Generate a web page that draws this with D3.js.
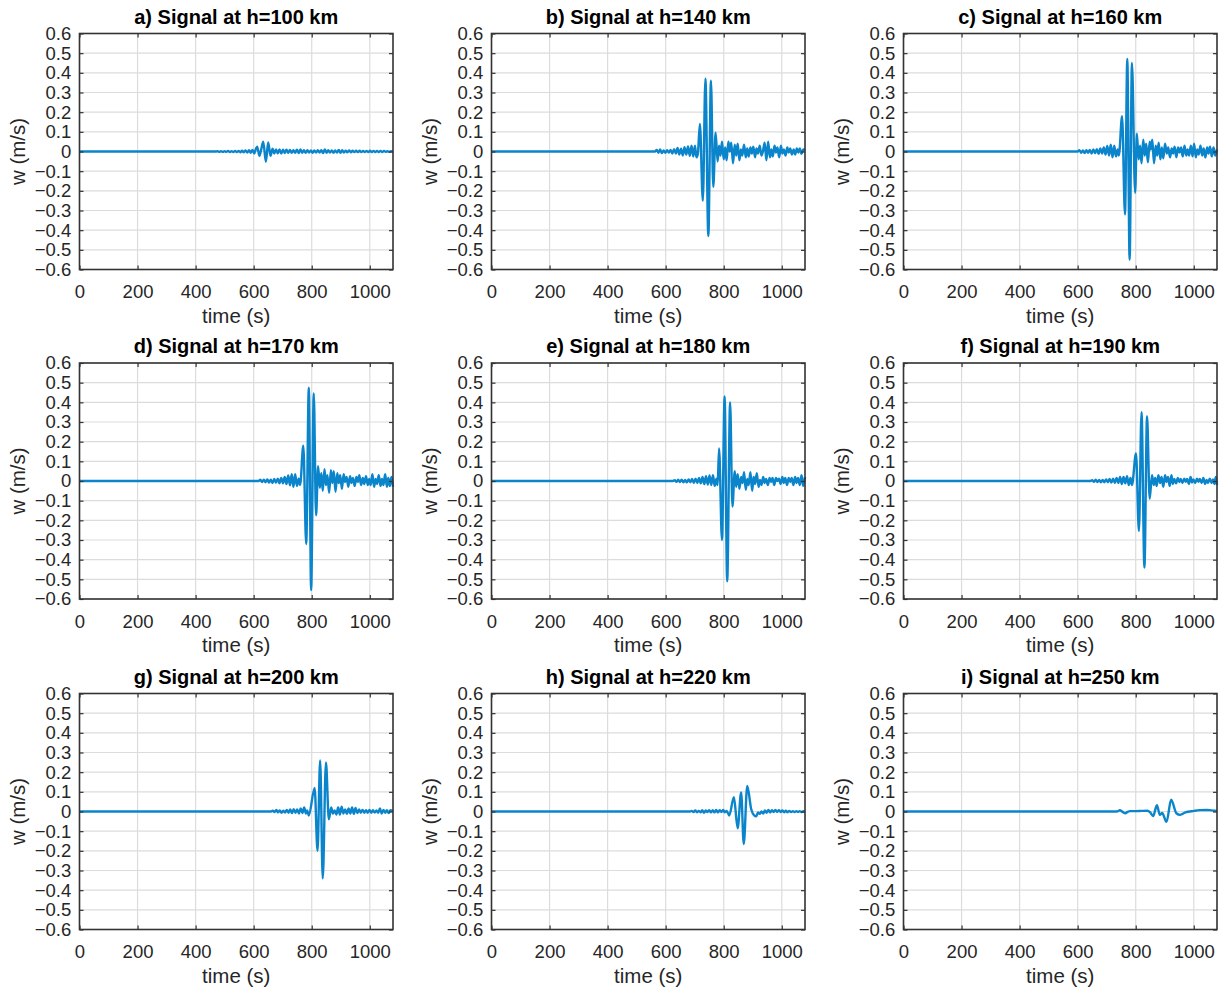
<!DOCTYPE html>
<html><head><meta charset="utf-8">
<script src="https://cdn.jsdelivr.net/npm/d3@7"></script>
<style>body{margin:0;background:#fff} svg{display:block}</style>
</head><body><svg id="c" width="1220" height="991"></svg>
<script>
// ---------- DATA ----------
const titles = ["a) Signal at h=100 km","b) Signal at h=140 km","c) Signal at h=160 km",
  "d) Signal at h=170 km","e) Signal at h=180 km","f) Signal at h=190 km",
  "g) Signal at h=200 km","h) Signal at h=220 km","i) Signal at h=250 km"];
const xTicks = [0,200,400,600,800,1000];
const yTicks = [-0.6,-0.5,-0.4,-0.3,-0.2,-0.1,0,0.1,0.2,0.3,0.4,0.5,0.6];
const xLabel = "time (s)";
const yLabel = "w (m/s)";

const sigA = [[0,0],[470,0],[476,0.002],[482,-0.002],[488,0.002],[494,-0.002],[500,0.002],[506,-0.002],[512,0.003],[518,-0.003],[524,0.002],[530,-0.003],[536,0.003],[542,-0.003],[548,0.003],[554,-0.004],[560,0.004],[566,-0.004],[572,0.005],[578,-0.005],[584,0.006],[590,-0.006],[596,0.008],[602,-0.01],[607,0.01],[612,0.025],[620,-0.022],[626,0.01],[633,0.05],[642,-0.052],[650,0.046],[658,-0.022],[665,0.014],[671,-0.01],[677,0.01],[683,-0.009],[689,0.01],[695,-0.01],[701,0.009],[707,-0.008],[713,0.009],[719,-0.007],[725,0.008],[731,-0.007],[737,0.007],[743,-0.006],[749,0.009],[755,-0.008],[761,0.01],[767,-0.007],[773,0.006],[779,-0.006],[785,0.006],[791,-0.005],[797,0.005],[803,-0.006],[809,0.005],[815,-0.005],[821,0.006],[827,-0.005],[833,0.007],[839,-0.008],[845,0.01],[851,-0.007],[857,0.006],[863,-0.005],[869,0.005],[875,-0.006],[881,0.005],[887,-0.005],[893,0.008],[899,-0.007],[905,0.006],[911,-0.005],[917,0.004],[923,-0.004],[929,0.005],[935,-0.004],[941,0.004],[947,-0.003],[953,0.004],[959,-0.003],[965,0.004],[971,-0.003],[977,0.003],[983,-0.003],[989,0.003],[995,-0.003],[1001,0.004],[1007,-0.003],[1013,0.003],[1019,-0.003],[1025,0.003],[1031,-0.003],[1037,0.003],[1043,-0.003],[1049,0.003],[1055,-0.002],[1061,0.002],[1067,-0.002],[1073,0.001],[1080,0]];

const sigB = [[0,0],[563,0],[569,0.008],[575,-0.006],[581,0.01],[587,-0.008],[593,0.005],[599,-0.006],[605,0.006],[611,-0.005],[617,0.008],[623,-0.01],[629,0.012],[635,-0.01],[641,0.018],[647,-0.015],[653,0.014],[659,-0.02],[665,0.022],[671,-0.016],[677,0.026],[683,-0.022],[689,0.03],[695,-0.025],[701,0.03],[706,-0.03],[711,-0.01],[718,0.14],[728,-0.25],[737,0.37],[747,-0.43],[756,0.36],[764,-0.18],[772,0.095],[779,-0.05],[784,0.03],[789,-0.02],[794,0.05],[800,-0.04],[805,0.02],[810,-0.045],[816,0.05],[821,0.0],[826,0.045],[832,-0.06],[838,0.035],[843,-0.02],[848,0.04],[854,-0.045],[859,0.01],[864,-0.02],[870,0.035],[876,-0.03],[881,0.015],[886,-0.025],[892,0.02],[897,-0.01],[902,0.025],[908,-0.03],[913,0.015],[918,-0.01],[924,0.03],[930,-0.02],[935,0.0],[941,0.045],[947,-0.045],[953,0.05],[959,-0.03],[964,0.01],[969,-0.025],[975,0.03],[980,-0.005],[985,0.02],[991,-0.03],[997,0.03],[1002,-0.01],[1007,0.01],[1013,-0.02],[1019,0.02],[1024,-0.005],[1029,0.015],[1035,-0.015],[1041,0.01],[1046,-0.015],[1052,0.015],[1057,-0.005],[1062,0.015],[1068,-0.012],[1074,0.01],[1080,0.005]];

const sigC = [[0,0],[600,0],[606,0.006],[612,-0.006],[618,0.005],[624,-0.008],[630,0.007],[636,-0.006],[642,0.008],[648,-0.01],[654,0.01],[660,-0.008],[666,0.012],[672,-0.012],[678,0.015],[684,-0.01],[690,0.02],[696,-0.015],[702,0.028],[708,-0.02],[714,0.035],[720,-0.03],[726,0.03],[732,-0.025],[738,0.01],[742,-0.02],[753,0.18],[763,-0.32],[771,0.47],[779,-0.55],[787,0.45],[798,-0.21],[804,0.09],[810,-0.04],[815,0.03],[820,-0.06],[826,0.06],[831,-0.02],[836,0.04],[842,-0.055],[848,0.05],[852,0.01],[857,0.06],[863,-0.06],[869,0.03],[874,-0.02],[879,0.045],[885,-0.04],[890,0.02],[895,-0.035],[901,0.04],[907,-0.01],[912,0.02],[918,-0.03],[924,0.015],[929,-0.01],[934,0.025],[940,-0.03],[946,0.02],[951,-0.005],[956,0.02],[962,-0.025],[968,0.03],[974,-0.02],[979,0.01],[984,-0.02],[990,0.03],[996,-0.025],[1001,0.04],[1007,-0.03],[1012,0.01],[1017,-0.015],[1023,0.03],[1029,-0.02],[1034,0.015],[1040,-0.03],[1046,0.02],[1051,-0.01],[1056,0.025],[1062,-0.025],[1068,0.02],[1074,-0.02],[1080,0.01]];

const sigD = [[0,0],[617,0],[623,0.006],[629,-0.005],[635,0.007],[641,-0.006],[647,0.008],[653,-0.008],[659,0.006],[665,-0.01],[671,0.01],[677,-0.008],[683,0.012],[689,-0.012],[695,0.016],[701,-0.012],[707,0.02],[713,-0.016],[719,0.028],[725,-0.022],[731,0.034],[737,-0.03],[743,0.035],[749,-0.025],[755,0.012],[760,-0.02],[771,0.18],[781,-0.32],[790,0.475],[798,-0.555],[807,0.445],[815,-0.175],[822,0.075],[828,-0.035],[833,0.04],[838,-0.05],[844,0.06],[849,-0.02],[854,0.03],[860,-0.06],[866,0.055],[871,-0.01],[876,0.05],[882,-0.055],[888,0.04],[893,-0.01],[898,0.03],[904,-0.04],[910,0.035],[915,-0.005],[920,0.02],[926,-0.03],[932,0.025],[937,-0.01],[942,0.015],[948,-0.025],[954,0.02],[959,-0.005],[964,0.03],[970,-0.02],[976,0.015],[981,-0.015],[987,0.025],[993,-0.02],[998,0.01],[1003,-0.02],[1009,0.035],[1015,-0.03],[1020,0.01],[1025,-0.015],[1031,0.03],[1037,-0.025],[1042,0.01],[1047,-0.02],[1053,0.035],[1059,-0.03],[1064,0.015],[1069,-0.025],[1075,0.02],[1080,-0.03]];

const sigE = [[0,0],[625,0],[631,0.004],[637,-0.004],[643,0.006],[649,-0.005],[655,0.007],[661,-0.006],[667,0.005],[673,-0.007],[679,0.008],[685,-0.006],[691,0.01],[697,-0.01],[703,0.012],[709,-0.01],[715,0.015],[721,-0.012],[727,0.02],[733,-0.016],[739,0.024],[745,-0.018],[751,0.028],[757,-0.02],[763,0.03],[769,-0.025],[775,0.012],[779,-0.02],[784,0.165],[794,-0.30],[803,0.43],[812,-0.51],[822,0.40],[830,-0.13],[838,0.05],[843,-0.03],[848,0.035],[854,-0.04],[860,0.02],[865,-0.01],[870,0.045],[876,-0.045],[881,0.01],[886,-0.02],[892,0.045],[898,-0.05],[903,0.02],[908,-0.015],[914,0.04],[920,-0.03],[925,0.005],[930,-0.02],[936,0.02],[941,-0.01],[946,0.01],[952,-0.02],[958,0.015],[963,-0.005],[968,0.015],[974,-0.02],[980,0.015],[985,0.0],[990,0.012],[996,-0.015],[1002,0.02],[1007,-0.01],[1012,0.015],[1018,-0.02],[1024,0.015],[1029,-0.005],[1034,0.015],[1040,-0.02],[1046,0.02],[1051,-0.01],[1056,0.015],[1062,-0.02],[1068,0.03],[1074,-0.025],[1080,0.02]];

const sigF = [[0,0],[644,0],[650,0.004],[656,-0.004],[662,0.006],[668,-0.005],[674,0.005],[680,-0.006],[686,0.005],[692,-0.006],[698,0.008],[704,-0.006],[710,0.01],[716,-0.008],[722,0.012],[728,-0.01],[734,0.015],[740,-0.01],[746,0.02],[752,-0.015],[758,0.02],[764,-0.012],[770,0.025],[776,-0.02],[782,0.015],[787,-0.02],[801,0.14],[811,-0.255],[820,0.35],[830,-0.44],[839,0.33],[848,-0.09],[856,0.03],[862,-0.02],[867,0.015],[872,-0.025],[878,0.03],[884,-0.01],[889,0.02],[895,-0.03],[901,0.03],[906,-0.005],[911,0.02],[917,-0.025],[923,0.03],[928,-0.015],[933,0.01],[939,-0.012],[945,0.015],[950,-0.005],[955,0.01],[961,-0.01],[967,0.012],[972,-0.004],[977,0.01],[983,-0.015],[989,0.02],[994,-0.008],[999,0.008],[1005,-0.01],[1011,0.012],[1016,-0.004],[1021,0.01],[1027,-0.01],[1033,0.015],[1039,-0.015],[1044,0.005],[1049,-0.01],[1055,0.012],[1061,-0.01],[1066,0.008],[1071,-0.015],[1076,0.02],[1080,-0.02]];

const sigG = [[0,0],[660,0],[666,0.004],[672,-0.003],[678,0.008],[684,-0.004],[690,0.005],[696,-0.006],[702,0.004],[708,-0.005],[714,0.008],[720,-0.006],[726,0.01],[732,-0.008],[738,0.012],[744,-0.006],[750,0.01],[756,-0.01],[762,0.015],[768,-0.008],[774,0.02],[780,-0.01],[784,0.005],[790,-0.02],[810,0.12],[820,-0.20],[829,0.26],[838,-0.34],[849,0.25],[859,-0.04],[867,0.02],[873,-0.01],[879,0.005],[885,-0.015],[891,0.02],[897,-0.015],[903,0.025],[909,-0.01],[915,0.01],[921,-0.012],[927,0.015],[933,-0.01],[939,0.02],[945,-0.012],[951,0.018],[957,-0.008],[963,0.01],[969,-0.006],[975,0.008],[981,-0.006],[987,0.006],[993,-0.006],[999,0.008],[1005,-0.006],[1011,0.006],[1017,-0.005],[1023,0.005],[1029,-0.006],[1035,0.015],[1041,-0.01],[1047,0.008],[1053,-0.006],[1059,0.006],[1065,-0.008],[1071,0.006],[1080,0]];

const sigH = [[0,0],[684,0],[690,0.003],[696,-0.003],[702,0.005],[708,-0.004],[714,0.003],[720,-0.004],[726,0.006],[732,-0.006],[738,0.005],[744,-0.003],[750,0.006],[756,-0.004],[762,0.006],[768,-0.004],[774,0.008],[780,-0.004],[786,0.006],[792,-0.003],[798,0.008],[804,-0.004],[810,0.003],[819,-0.02],[835,0.073],[848,-0.085],[860,0.097],[869,-0.165],[881,0.13],[895,0.01],[905,-0.02],[912,-0.025],[918,-0.005],[924,-0.012],[930,0.0],[936,-0.01],[942,0.005],[948,-0.006],[954,0.008],[960,-0.004],[966,0.006],[972,-0.003],[978,0.008],[984,-0.002],[990,0.006],[996,-0.003],[1002,0.005],[1008,-0.004],[1014,0.004],[1020,-0.004],[1026,0.003],[1032,-0.003],[1038,0.002],[1044,-0.003],[1050,0.002],[1056,-0.002],[1062,0.002],[1068,-0.003],[1074,0.001],[1080,-0.002]];

const sigI = [[0,0],[735,0],[745,0.006],[755,-0.002],[764,-0.009],[772,-0.002],[780,0.002],[800,0.002],[820,0.003],[840,0.004],[850,-0.005],[860,-0.023],[873,0.032],[883,-0.017],[891,-0.008],[906,-0.053],[922,0.06],[940,-0.009],[953,-0.017],[971,-0.005],[1000,0.003],[1020,0.007],[1045,0.008],[1060,0.006],[1080,0.003]];

const signals = [sigA,sigB,sigC,sigD,sigE,sigF,sigG,sigH,sigI];

// ---------- LAYOUT ----------
const colLeft = [79.5, 491.5, 903.5];
const rowTop = [33.5, 363, 693.5];
const W = 313.5, H = 236;
const FONT = "'Liberation Sans', Arial, Helvetica, sans-serif";
const TXT = "#262626";

const svg = d3.select("#c");
const x = d3.scaleLinear().domain([0,1080]).range([0,W]);
const y = d3.scaleLinear().domain([-0.6,0.6]).range([H,0]);
const line = d3.line().x(d=>x(d[0])).y(d=>y(d[1])).curve(d3.curveMonotoneX);
const fmt = d => (Math.abs(d) < 1e-9 ? "0" : d3.format(".1f")(d));

signals.forEach((sig,i)=>{
  const g = svg.append("g").attr("transform",`translate(${colLeft[i%3]},${rowTop[Math.floor(i/3)]})`);
  // grid
  g.append("g").selectAll("line").data(xTicks).join("line")
    .attr("x1",d=>x(d)).attr("x2",d=>x(d)).attr("y1",0).attr("y2",H)
    .attr("stroke","#dcdcdc").attr("stroke-width",1.2);
  g.append("g").selectAll("line").data(yTicks).join("line")
    .attr("y1",d=>y(d)).attr("y2",d=>y(d)).attr("x1",0).attr("x2",W)
    .attr("stroke","#dcdcdc").attr("stroke-width",1.2);
  // signal
  g.append("path").datum(sig).attr("d",line).attr("fill","none")
    .attr("stroke","#0a85cc").attr("stroke-width",2.4).attr("stroke-linejoin","round");
  // axes
  const ax = [
    g.append("g").attr("transform",`translate(0,${H})`).call(d3.axisBottom(x).tickValues(xTicks).tickFormat(d3.format("d")).tickSize(-4).tickPadding(15.7)),
    g.append("g").call(d3.axisLeft(y).tickValues(yTicks).tickFormat(fmt).tickSize(-4).tickPadding(8.3)),
    g.append("g").call(d3.axisTop(x).tickValues(xTicks).tickFormat("").tickSize(-4)),
    g.append("g").attr("transform",`translate(${W},0)`).call(d3.axisRight(y).tickValues(yTicks).tickFormat("").tickSize(-4))
  ];
  ax.forEach(a=>{
    a.select(".domain").remove();
    a.selectAll(".tick line").attr("stroke","#333").attr("stroke-width",1.2);
    a.selectAll("text").attr("font-family",FONT).attr("font-size","18.5px").attr("fill",TXT);
  });
  // box
  g.append("rect").attr("x",0).attr("y",0).attr("width",W).attr("height",H)
    .attr("fill","none").attr("stroke","#333").attr("stroke-width",1.6);
  // title
  g.append("text").attr("x",W/2).attr("y",-10).attr("text-anchor","middle")
    .attr("font-family",FONT).attr("font-weight","bold").attr("font-size","20px").attr("fill","#000")
    .text(titles[i]);
  // x label
  g.append("text").attr("x",W/2).attr("y",H+53).attr("text-anchor","middle")
    .attr("font-family",FONT).attr("font-size","20.5px").attr("fill",TXT).text(xLabel);
  // y label
  g.append("text").attr("transform",`translate(-54.5,${H/2}) rotate(-90)`).attr("text-anchor","middle")
    .attr("font-family",FONT).attr("font-size","20.5px").attr("fill",TXT).text(yLabel);
});
</script>
</body></html>
